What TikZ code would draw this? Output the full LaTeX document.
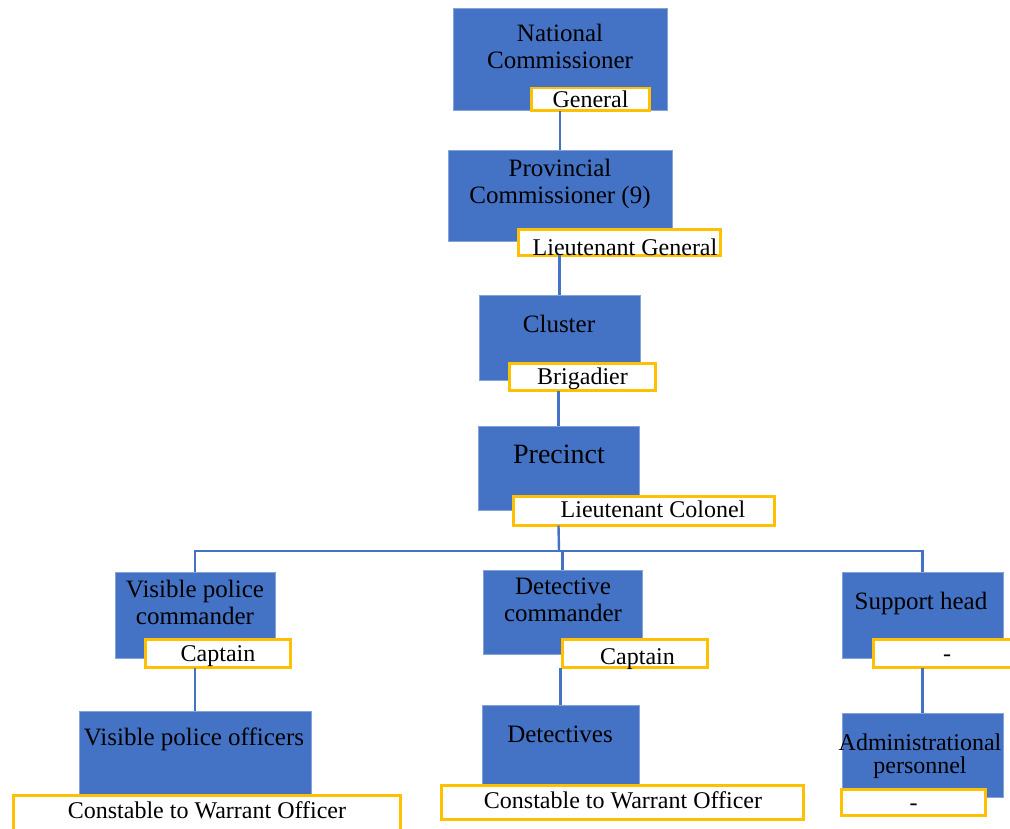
\documentclass[tikz,border=0pt]{standalone}
\usepackage{fontspec}
\setmainfont{Liberation Serif}
\definecolor{boxblue}{HTML}{4472C4}
\definecolor{rankgold}{HTML}{FFC000}
\tikzset{
  bluebox/.style={fill=boxblue, draw=boxblue!65!white, line width=0.8pt, inner sep=0pt, outer sep=0pt},
  ranklabel/.style={fill=white, draw=rankgold, line width=2.5pt, inner sep=0pt, outer sep=0pt},
  boxtext/.style={font=\fontsize{25}{27}\selectfont, align=center, inner sep=0pt, text=black},
  bigtext/.style={font=\fontsize{28}{30}\selectfont, inner sep=0pt, text=black},
  ranktext/.style={font=\fontsize{24}{26}\selectfont, inner sep=0pt, text=black, anchor=base},
  link/.style={draw=boxblue, line width=2.4pt},
}
\begin{document}
\begin{tikzpicture}[x=1pt,y=-1pt]
\useasboundingbox (0,0) rectangle (1010,829);
\clip (0,0) rectangle (1010,829);
\fill[white] (0,0) rectangle (1010,829);

% blue boxes
\node[bluebox, minimum width=214pt, minimum height=102pt] (nat) at (560,59) {};
\node[bluebox, minimum width=224pt, minimum height=91pt] (prov) at (560,195.5) {};
\node[bluebox, minimum width=161pt, minimum height=85pt] (clus) at (559.5,337.5) {};
\node[bluebox, minimum width=161pt, minimum height=84pt] (prec) at (558.5,468) {};
\node[bluebox, minimum width=160pt, minimum height=86pt] (vpc) at (195,615) {};
\node[bluebox, minimum width=159pt, minimum height=84pt] (detc) at (562.5,612) {};
\node[bluebox, minimum width=161pt, minimum height=86pt] (sup) at (922.5,615) {};
\node[bluebox, minimum width=232pt, minimum height=83pt] (vpo) at (195,752.5) {};
\node[bluebox, minimum width=157pt, minimum height=79pt] (dets) at (560.5,744.5) {};
\node[bluebox, minimum width=161pt, minimum height=84pt] (adm) at (922.5,755) {};

% box texts
\node[boxtext] (natt) at (560,46) {National\\Commissioner};
\node[boxtext] (provt) at (560,184) {Provincial\\Commissioner (9)};
\node[boxtext, anchor=base] (clust) at (559,332) {Cluster};
\node[bigtext, anchor=base] (prect) at (559,463) {Precinct};
\node[boxtext] (vpct) at (195,602) {Visible police\\commander};
\node[boxtext] (detct) at (563,600) {Detective\\commander};
\node[boxtext, anchor=base] (supt) at (921,609) {Support head};
\node[boxtext, anchor=base] (vpot) at (194,745) {Visible police officers};
\node[boxtext, anchor=base] (detst) at (560,742) {Detectives};
\node[boxtext, font=\fontsize{24}{23}\selectfont] (admt) at (920,756) {Administrational\\personnel};

% rank labels
\node[ranklabel, minimum width=118pt, minimum height=22.5pt] (genlab) at (590.5,99.5) {};
\node[ranklabel, minimum width=202pt, minimum height=26pt] (ltglab) at (619.5,242.5) {};
\node[ranklabel, minimum width=146pt, minimum height=27pt] (briglab) at (582.5,377) {};
\node[ranklabel, minimum width=261pt, minimum height=29pt] (ltcollab) at (644,511) {};
\node[ranklabel, minimum width=145pt, minimum height=28pt] (cap1lab) at (218,653.5) {};
\node[ranklabel, minimum width=145pt, minimum height=28pt] (cap2lab) at (635,653.5) {};
\node[ranklabel, minimum width=140pt, minimum height=28pt] (suplab) at (943.5,653.5) {};
\node[ranklabel, minimum width=387pt, minimum height=43pt] (con1lab) at (207,817) {};
\node[ranklabel, minimum width=362pt, minimum height=34pt] (con2lab) at (622.5,802.5) {};
\node[ranklabel, minimum width=144pt, minimum height=26pt] (admlab) at (913.5,802.5) {};

% rank texts
\node[ranktext] (gent) at (590.5,108) {General};
\node[ranktext] (ltgt) at (625,256) {Lieutenant General};
\node[ranktext] (brigt) at (582.5,384) {Brigadier};
\node[ranktext] (ltcolt) at (653,517) {Lieutenant Colonel};
\node[ranktext] (cap1t) at (218,661) {Captain};
\node[ranktext] (cap2t) at (637.5,664) {Captain};
\node[ranktext] (supdash) at (947,661) {-};
\node[ranktext] (con1t) at (207,818) {Constable to Warrant Officer};
\node[ranktext] (con2t) at (623,808) {Constable to Warrant Officer};
\node[ranktext] (admdash) at (913.5,810) {-};

% connectors
\coordinate (bus) at (559,551);
\draw[link] (prov.north) -- (prov.north |- genlab.south);
\draw[link] (clus.north) -- (clus.north |- ltglab.south);
\draw[link] (prec.north) -- (prec.north |- briglab.south);
\draw[link] (prec.south |- ltcollab.south) -- (bus);
\draw[link] (vpc.north) -- (vpc.north |- bus) -- (sup.north |- bus) -- (sup.north);
\draw[link] (detc.north) -- (detc.north |- bus);
\draw[link] (vpo.north) -- (vpo.north |- cap1lab.south);
\draw[link] (dets.north) -- (dets.north |- cap2lab.south);
\draw[link] (adm.north) -- (adm.north |- suplab.south);
\end{tikzpicture}
\end{document}
